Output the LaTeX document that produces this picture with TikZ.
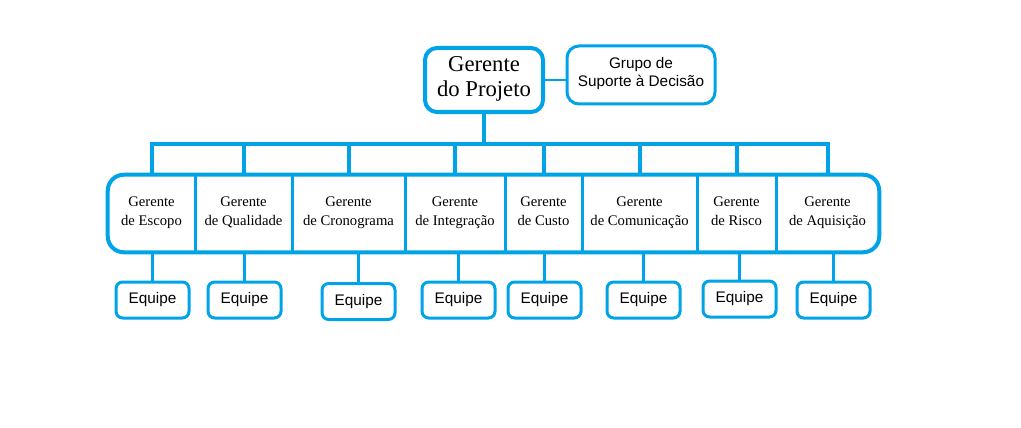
\documentclass[tikz,border=0pt]{standalone}
\usepackage{fontspec}
\setmainfont{Liberation Serif}
\newfontfamily\arialfont{Liberation Sans}
\usetikzlibrary{positioning,calc}
\definecolor{paintBlue}{RGB}{0,162,232}

\begin{document}
\begin{tikzpicture}[x=0.75pt,y=-0.75pt,
  box/.style={rectangle,draw=paintBlue,line width=#1,inner sep=0pt,align=center},
  cell/.style={rectangle,inner sep=0pt,minimum width=#1*0.75pt,minimum height=57.75pt,
               align=center,font=\fontsize{11}{14.25}\selectfont},
  team/.style={box=2.25pt,rounded corners=5pt,minimum width=54.75pt,minimum height=27pt,
               font=\arialfont\fontsize{11.5}{13.5}\selectfont},
  link/.style={draw=paintBlue,line width=#1,line join=miter}
]
\useasboundingbox (0,0) rectangle (1021,428);
% Project manager and support group
\node[box=3pt,rounded corners=9pt,minimum width=88.5pt,minimum height=48pt,
      font=\fontsize{17}{19}\selectfont] (pm) at (484,80) {Gerente\\do Projeto\strut};
\node[box=2.25pt,rounded corners=9pt,minimum width=111pt,minimum height=43.5pt,
      font=\arialfont\fontsize{11.5}{13.5}\selectfont] (gsd) at (641,75)
  {Grupo de\\Suporte à Decisão\strut};
\draw[link=2pt] (pm.east) -- (pm.east -| gsd.west);
% Row of managers
\foreach \name/\x/\w/\txt in {esc/151.5/87/Escopo, qua/243.5/97/Qualidade,
    cro/348.5/113/Cronograma, int/455/100/Integração, cus/543.5/77/Custo,
    com/639.5/115/Comunicação, ris/736.5/79/Risco, aqu/827.5/103/Aquisição}
  \node[cell=\w] (\name) at (\x,213.5) {Gerente\\de \txt\strut};
\draw[link=3pt,rounded corners=12pt] (esc.north west) rectangle (aqu.south east);
\foreach \a in {esc,qua,cro,int,cus,com,ris}
  \draw[link=2.25pt] (\a.north east) -- (\a.south east);
% Bus
\coordinate (bus) at (486,144);
\draw[link=3pt] (pm.south) -- (pm.south |- bus);
\draw[link=3pt] (esc.north) -- (esc.north |- bus) -- (aqu.north |- bus) -- (aqu.north);
\foreach \c in {qua,cro,int,cus,com,ris}
  \draw[link=3pt] (\c.north |- bus) -- (\c.north);
% Teams
\foreach \c/\x/\y in {esc/152.5/300, qua/244.5/300, cro/358.5/301.5, int/458.5/300,
    cus/544.5/300, com/643.5/300, ris/739.5/299, aqu/833.5/300} {
  \node[team] (eq-\c) at (\x,\y) {Equipe};
  \draw[link=2pt] (\c.south -| eq-\c.north) -- (eq-\c.north);
}
\end{tikzpicture}
\end{document}
